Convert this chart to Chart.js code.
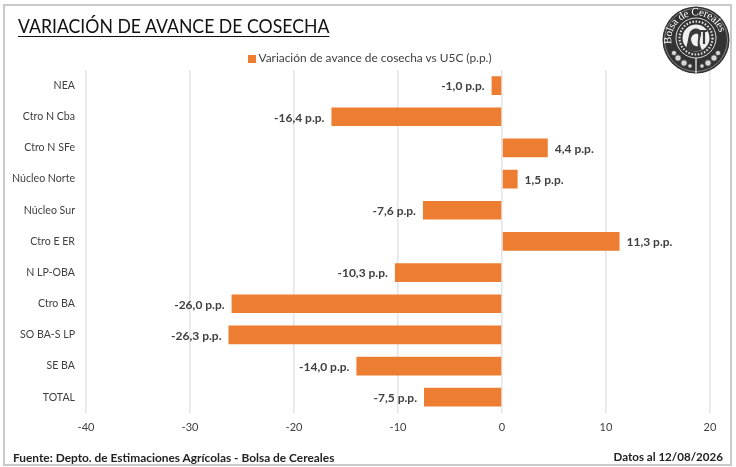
<!DOCTYPE html>
<html>
<head>
<meta charset="utf-8">
<script src="https://cdn.jsdelivr.net/npm/chart.js@4"></script>
<style>
    html, body { margin: 0; padding: 0; background: #fff; }
    #wrap { position: relative; width: 736px; height: 467px; overflow: hidden; font-family: Lato, sans-serif; }
    #frame { position: absolute; left: 3px; top: 4px; width: 725px; height: 458px; border: 2px solid #c9c9c9; }
    #chart { position: absolute; left: 0; top: 0; }
    #title { position: absolute; left: 18px; top: 14px; font-size: 19.5px; color: #111; text-decoration: underline; text-decoration-thickness: 1px; text-underline-offset: 3px; white-space: nowrap; transform: scaleX(0.905); transform-origin: left top; }
    #legend { position: absolute; left: 248px; top: 50px; font-size: 11.9px; line-height: 16px; color: #404040; white-space: nowrap; }
    #legend i { position: absolute; left: 0; top: 5px; width: 8px; height: 8px; background: #ed7d31; }
    #legend span { margin-left: 10.5px; }
    #source { position: absolute; left: 13px; top: 450px; font-size: 11.9px; font-weight: bold; color: #222; white-space: nowrap; }
    #date { position: absolute; right: 13px; top: 450px; font-size: 11.6px; font-weight: bold; color: #222; white-space: nowrap; }
    #logo { position: absolute; left: 662px; top: 6px; }
</style>
</head>
<body>
<div id="wrap">
    <canvas id="chart" width="736" height="467"></canvas>
    <div id="frame"></div>
    <div id="title">VARIACIÓN DE AVANCE DE COSECHA</div>
    <div id="legend"><i></i><span id="legendText"></span></div>
    <div id="source">Fuente: Depto. de Estimaciones Agrícolas - Bolsa de Cereales</div>
    <div id="date">Datos al 12/08/2026</div>
    <svg id="logo" width="68" height="68" viewBox="0 0 68 68">
        <defs><path id="ring" d="M 9.5 38 A 24.8 24.8 0 1 1 58.5 38"></path></defs>
        <circle cx="34" cy="34" r="33.5" fill="#333"></circle>
        <circle cx="34" cy="34" r="31.5" fill="none" stroke="#bbb" stroke-width="0.6"></circle>
        <circle cx="34" cy="32" r="20" fill="none" stroke="#eee" stroke-width="0.9"></circle>
        <circle cx="34" cy="32" r="16.5" fill="none" stroke="#ddd" stroke-width="2.2" stroke-dasharray="1.6 1.6"></circle>
        <circle cx="34" cy="32" r="13.5" fill="#efefef"></circle>
        <path d="M 24 42 C 26 36 26 33 27 29 C 28 23 34 21 38 24 C 40 26 39 30 38 33 C 37 37 38 40 40 44 C 35 46 28 46 24 42 Z" fill="#3a3a3a"></path>
        <path d="M 29 34 C 29 29 33 27 36 28 C 37 31 35 36 36 40 C 33 41 30 39 29 34 Z" fill="#f2f2f2"></path>
        <path d="M 38 25 L 45 25 M 42 25 L 42 38" stroke="#3a3a3a" stroke-width="2.2" fill="none"></path>
        <text font-family="Liberation Serif" font-size="11" fill="#fff" textLength="74"><textPath href="#ring">Bolsa de Cereales</textPath></text>
        <g fill="#d8d8d8" stroke="#333" stroke-width="0.8">
            <circle cx="12" cy="47" r="2.6"></circle>
            <circle cx="16" cy="52" r="3.2"></circle>
            <circle cx="22" cy="57" r="3.2"></circle>
            <circle cx="28" cy="60" r="2.2"></circle>
            <circle cx="56" cy="47" r="2.6"></circle>
            <circle cx="52" cy="52" r="3.2"></circle>
            <circle cx="46" cy="57" r="3.2"></circle>
            <circle cx="40" cy="60" r="2.2"></circle>
        </g>
        <path d="M 34 52 L 34 67" stroke="#ddd" stroke-width="1.4"></path>
    </svg>
</div>
<script>
const categories = ["NEA", "Ctro N Cba", "Ctro N SFe", "Núcleo Norte", "Núcleo Sur", "Ctro E ER", "N LP-OBA", "Ctro BA", "SO BA-S LP", "SE BA", "TOTAL"];
const variation = [-1.0, -16.4, 4.4, 1.5, -7.6, 11.3, -10.3, -26.0, -26.3, -14.0, -7.5];
const seriesName = "Variación de avance de cosecha vs U5C (p.p.)";

document.getElementById("legendText").textContent = seriesName;

// labels like "-16,4 p.p." next to the end of each bar
const barLabels = {
    id: "barLabels",
    afterDatasetsDraw(chart) {
        const ctx = chart.ctx;
        const bars = chart.getDatasetMeta(0).data;
        ctx.save();
        ctx.font = "bold 12px Lato, sans-serif";
        ctx.fillStyle = "#404040";
        ctx.textBaseline = "middle";
        bars.forEach((bar, i) => {
            const v = variation[i];
            const text = v.toFixed(1).replace(".", ",") + " p.p.";
            ctx.textAlign = v < 0 ? "right" : "left";
            ctx.fillText(text, bar.x + (v < 0 ? -7 : 7), bar.y + 1);
        });
        ctx.restore();
    }
};

new Chart(document.getElementById("chart").getContext("2d"), {
    type: "bar",
    data: {
        labels: categories,
        datasets: [{
            label: seriesName,
            data: variation,
            backgroundColor: "#ed7d31",
            categoryPercentage: 1,
            barPercentage: 0.6
        }]
    },
    options: {
        indexAxis: "y",
        responsive: false,
        animation: false,
        layout: { padding: { left: 0, right: 26, top: 70, bottom: 25 } },
        scales: {
            x: {
                min: -40,
                max: 20,
                ticks: { stepSize: 10, color: "#404040", font: { family: "Lato", size: 11 }, padding: 8 },
                grid: { color: "#e4e4e4", lineWidth: 1.5, drawTicks: false },
                border: { display: false }
            },
            y: {
                afterFit(axis) { axis.width = 86; },
                ticks: { color: "#404040", font: { family: "Lato", size: 10.6 }, padding: 11, autoSkip: false },
                grid: { display: false, drawTicks: false },
                border: { display: false }
            }
        },
        plugins: {
            legend: { display: false },
            tooltip: { enabled: false }
        }
    },
    plugins: [barLabels]
});
</script>
</body>
</html>
